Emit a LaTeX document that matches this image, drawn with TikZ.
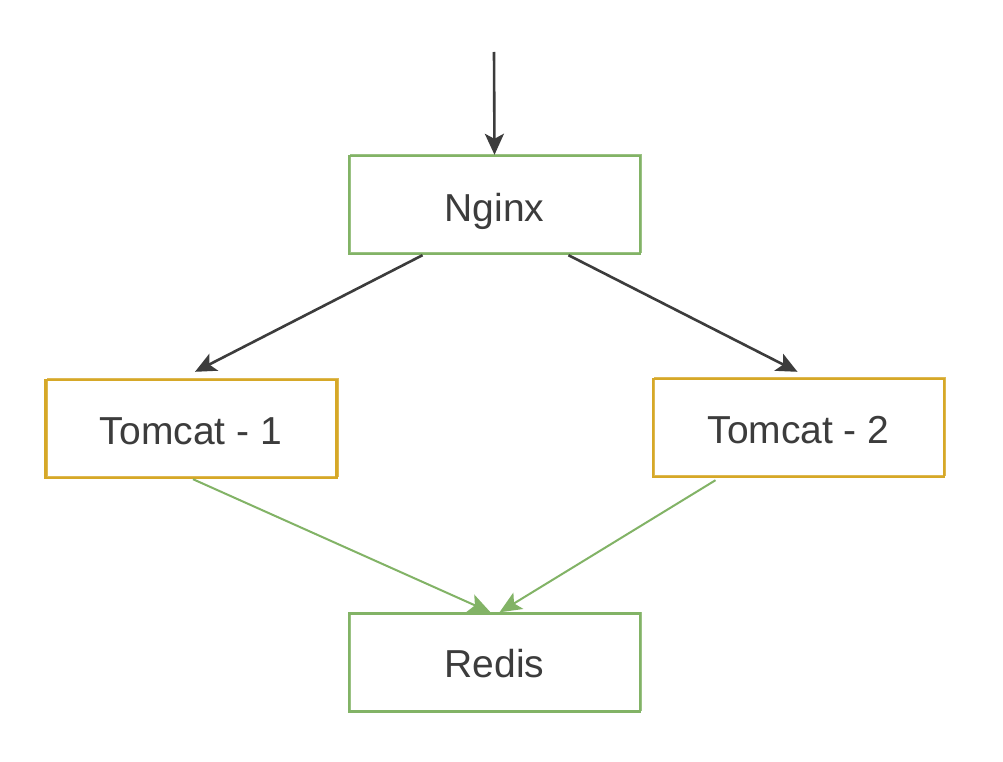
\documentclass[tikz,border=0pt]{standalone}
\usepackage{fontspec}
\setmainfont{Liberation Sans}
\usetikzlibrary{arrows.meta,calc}
\definecolor{boxgreen}{RGB}{130,179,102}
\definecolor{boxgold}{RGB}{214,168,40}
\definecolor{txt}{RGB}{60,60,60}
\definecolor{arr}{RGB}{60,60,60}
\tikzset{
  sketchbox/.style={draw=#1, line width=2.4pt, minimum width=291pt, minimum height=98pt,
    inner sep=0pt, text=txt, font=\fontsize{39}{44}\selectfont, text depth=0pt,
    postaction={draw=#1, line width=1.2pt, opacity=0.8, transform canvas={shift={(1.6pt,1.2pt)}}}},
  darrow/.style={draw=arr, line width=2.6pt, -{Stealth[length=21pt,width=19pt,inset=5pt]}},
  garrow/.style={draw=boxgreen, line width=2pt, -{Stealth[length=22pt,width=19pt,inset=5pt]}}
}
\begin{document}
\begin{tikzpicture}[x=1pt,y=-1pt]
\useasboundingbox[fill=white] (0,0) rectangle (1003,762);
\node[sketchbox=boxgreen] (nginx) at (494.5,205) {\raisebox{-5pt}{Nginx}};
\node[sketchbox=boxgold] (t1) at (191,429) {\raisebox{-4pt}{Tomcat - 1}};
\node[sketchbox=boxgold] (t2) at (798.5,428) {\raisebox{-4pt}{Tomcat - 2}};
\node[sketchbox=boxgreen] (redis) at (494.5,662.5) {\raisebox{-2pt}{Redis}};
\coordinate (entry) at (494,52);
\draw[darrow] (entry) -- (nginx.north);
\draw[darrow] ($(nginx.south)+(-72,0)$) -- ($(t1.north)+(4,-7)$);
\draw[darrow] ($(nginx.south)+(74,0)$) -- ($(t2.north)+(-1,-6)$);
\draw[garrow] ($(t1.south)+(2,0)$) -- ($(redis.north)+(-4,0)$);
\draw[garrow] ($(t2.south)+(-83,2)$) -- ($(redis.north)+(5,0)$);
\end{tikzpicture}
\end{document}
